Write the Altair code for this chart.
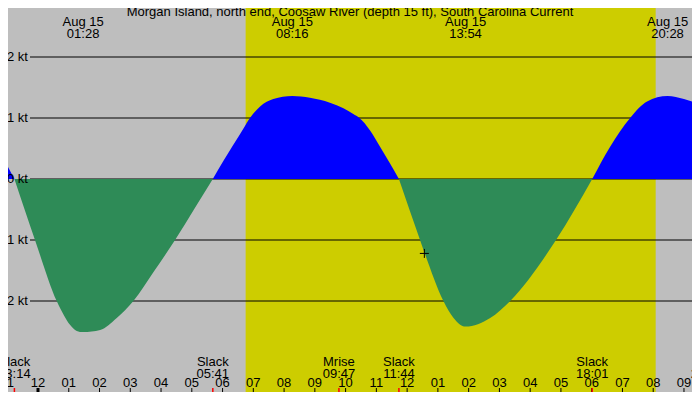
import altair as alt
import pandas as pd

# times are hours from midnight of Aug 15, speeds in knots
curve_t = [-1.236, -1.0, -0.767, -0.098, 0.608, 0.85, 1.04, 1.26, 1.467, 2.02, 2.56, 3.10,
           3.75, 4.455, 5.07, 5.683, 6.02, 6.35, 6.67, 6.89, 7.22, 7.65, 8.267, 8.84, 9.49,
           9.93, 10.25, 10.45, 10.79, 11.12, 11.44, 11.733, 12.42, 12.56, 13.18, 13.51, 13.9,
           14.70, 15.35, 16.84, 18.017, 18.6, 19.25, 19.8, 20.467, 21.0, 21.522]
curve_kt = [0.45, 0.22, 0.0, -1.0, -2.0, -2.24, -2.39, -2.49, -2.51, -2.475, -2.28, -2.0,
            -1.53, -1.0, -0.5, 0.0, 0.29, 0.56, 0.82, 1.0, 1.19, 1.31, 1.36, 1.33, 1.25,
            1.16, 1.066, 1.0, 0.80, 0.53, 0.257, 0.0, -1.0, -1.2, -2.0, -2.28, -2.42,
            -2.28, -2.0, -1.0, 0.0, 0.53, 1.0, 1.27, 1.36, 1.31, 1.22]

day_start = [6.75]
day_end = [20.08]

peak_t = [1.467, 8.267, 13.9, 20.467]
peak_date = ["Aug 15", "Aug 15", "Aug 15", "Aug 15"]
peak_time = ["01:28", "08:16", "13:54", "20:28"]

event_t = [-0.767, 5.683, 9.783, 11.733, 18.017, 21.75]
event_name = ["Slack", "Slack", "Mrise", "Slack", "Slack", "Mset"]
event_time = ["23:14", "05:41", "09:47", "11:44", "18:01", "21:45"]

hour_t = list(range(-1, 22))
hour_label = ["11", "12", "01", "02", "03", "04", "05", "06", "07", "08", "09", "10", "11",
              "12", "01", "02", "03", "04", "05", "06", "07", "08", "09"]

grid_kt = [2, 1, 0, -1, -2]
grid_label = ["2 kt", "1 kt", "0 kt", "-1 kt", "-2 kt"]

now_t = [12.56]
now_kt = [-1.22]

title = "Morgan Island, north end, Coosaw River (depth 15 ft), South Carolina Current"

FONT = "Liberation Sans"
SIZE = 13

# the page keeps an 8px margin, so the chart is 684x384 and everything sits 8px up/left
W, H = 684, 384
xs = alt.Scale(domain=[-0.9753, 21.261], nice=False, zero=False)
ys = alt.Scale(domain=[-3.4918, 2.8033], nice=False, zero=False)

##### split the curve at slack water so every flood / ebb is its own area

rows = []
seg = 0
for i, (t, v) in enumerate(zip(curve_t, curve_kt)):
    rows.append({"t": t, "kt": v, "seg": seg})
    if v == 0 and 0 < i < len(curve_t) - 1:
        seg += 1
        rows.append({"t": t, "kt": v, "seg": seg})
curve = pd.DataFrame(rows)
curve["dir"] = curve.groupby("seg")["kt"].transform(lambda s: "flood" if s.sum() > 0 else "ebb")
curve["zero"] = 0.0

days = pd.DataFrame({"start": day_start, "end": day_end})
grid = pd.DataFrame({"kt": grid_kt, "label": grid_label})
peaks = pd.DataFrame({"t": peak_t, "date": peak_date, "time": peak_time})
events = pd.DataFrame({"t": event_t, "name": event_name, "time": event_time})
hours = pd.DataFrame({"t": hour_t, "label": hour_label})
now = pd.DataFrame({"t": now_t, "kt": now_kt})

daylight = alt.Chart(days).mark_rect(color="#CDCD00", clip=True).encode(
    x=alt.X("start:Q", scale=xs, axis=None),
    x2="end:Q",
    y=alt.value(0),
    y2=alt.value(H),
)

gridlines = alt.Chart(grid).mark_rule(color="black", strokeWidth=1).encode(
    x=alt.value(22),
    x2=alt.value(W),
    y=alt.Y("kt:Q", scale=ys, axis=None),
)

current = alt.Chart(curve).mark_area(interpolate="monotone", opacity=1, clip=True).encode(
    x=alt.X("t:Q", scale=xs, axis=None),
    y=alt.Y("kt:Q", scale=ys, axis=None, stack=None),
    y2="zero:Q",
    color=alt.Color(
        "dir:N",
        scale=alt.Scale(domain=["flood", "ebb"], range=["#0000FF", "#2E8B57"]),
        legend=None,
    ),
    detail="seg:N",
)

grid_text = alt.Chart(grid).mark_text(align="right", baseline="middle", font=FONT, fontSize=SIZE).encode(
    x=alt.value(20),
    y=alt.Y("kt:Q", scale=ys, axis=None),
    text="label:N",
)


def bottom_ticks(df, color, width):
    return alt.Chart(df).mark_rule(color=color, strokeWidth=width, clip=True).encode(
        x=alt.X("t:Q", scale=xs, axis=None),
        y=alt.value(380),
        y2=alt.value(H),
    )


def row_text(df, field, y):
    return alt.Chart(df).mark_text(baseline="middle", font=FONT, fontSize=SIZE).encode(
        x=alt.X("t:Q", scale=xs, axis=None),
        y=alt.value(y),
        text=f"{field}:N",
    )


hour_ticks = bottom_ticks(hours, "black", 1)
midnight_tick = bottom_ticks(hours[hours["t"] == 0], "black", 3)
event_ticks = bottom_ticks(events, "red", 1.5)

hour_text = row_text(hours, "label", 375)
event_name_text = row_text(events, "name", 354)
event_time_text = row_text(events, "time", 366)
peak_date_text = row_text(peaks, "date", 14)
peak_time_text = row_text(peaks, "time", 26)

title_text = alt.Chart(pd.DataFrame({"title": [title]})).mark_text(
    baseline="middle", font=FONT, fontSize=SIZE
).encode(
    x=alt.value(342),
    y=alt.value(4),
    text="title:N",
)

now_mark = alt.Chart(now).mark_point(
    shape="M-1,0L1,0M0,-1L0,1", size=81, color="black", strokeWidth=1, filled=False, opacity=1
).encode(
    x=alt.X("t:Q", scale=xs, axis=None),
    y=alt.Y("kt:Q", scale=ys, axis=None),
)

chart = (
    daylight + gridlines + current + grid_text + hour_ticks + midnight_tick + event_ticks
    + hour_text + event_name_text + event_time_text + peak_date_text + peak_time_text
    + title_text + now_mark
).properties(
    width=W,
    height=H,
    padding=0,
    autosize="none",
    background="#BEBEBE",
).configure_view(stroke=None)

chart.save("out.html", embed_options={"renderer": "svg", "actions": False})
